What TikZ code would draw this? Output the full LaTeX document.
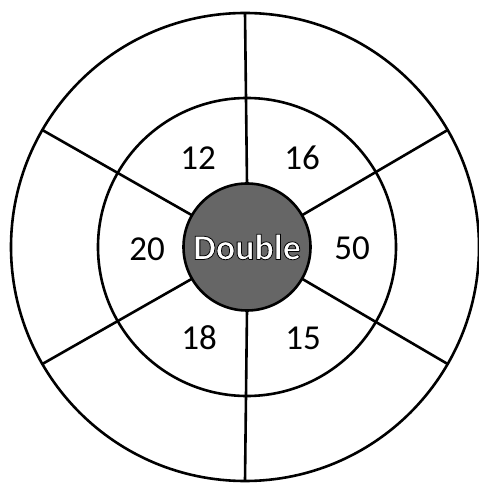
\documentclass[tikz,border=0pt]{standalone}
\usepackage{fontspec}
\setmainfont{Carlito}
\usepackage{tikz}
\usetikzlibrary{positioning}

% white letters with a black rim
\newcommand{\rimtext}[1]{\textcolor{white}{\special{pdf:literal direct 0 G 0.8 w 2 Tr}#1\special{pdf:literal direct 0 Tr}}}

\begin{document}
\begin{tikzpicture}
  [x=1pt, y=1pt,
   ring/.style={circle, draw, line width=2.6pt, inner sep=0pt, outer sep=0pt},
   score/.style={font=\fontsize{35}{35}\selectfont}]
  \useasboundingbox (0,0) rectangle (479,483);
  \coordinate (o) at (247,236);
  \node[ring, minimum size=468pt] (rim) at (245,236) {};
  \node[ring, minimum size=298pt] (mid) at (o) {};
  \node[ring, minimum size=127pt, fill=black!60] (hub) at (o)
    {\fontsize{36}{36}\selectfont\bfseries\rimtext{Double}};
  % spokes from the bull to the outer ring
  \foreach \a in {30,90,150,210,270,330}
    \draw[line width=2.6pt] (hub.\a) -- (rim.\a);
  % scores in the middle ring
  \node[score] (s12) at (198,325) {12};
  \node[score] (s16) at (302,325) {16};
  \node[score] (s20) at (147,234) {20};
  \node[score] (s50) at (352,235) {50};
  \node[score] (s18) at (199,145) {18};
  \node[score] (s15) at (303,145) {15};
\end{tikzpicture}
\end{document}
